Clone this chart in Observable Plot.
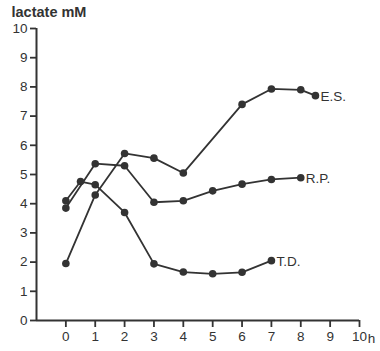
<!DOCTYPE html>
<html>
<head>
<meta charset="utf-8">
<script src="https://cdn.jsdelivr.net/npm/d3@7"></script>
<script src="https://cdn.jsdelivr.net/npm/@observablehq/plot@0.6"></script>
<style>
  html, body { margin: 0; padding: 0; background: #fff; }
</style>
</head>
<body>
<div id="chart"></div>
<script>
// Data
const esTimes = [0, 1, 2, 3, 4, 6, 7, 8, 8.5];
const esValues = [1.95, 4.3, 5.72, 5.56, 5.05, 7.4, 7.93, 7.9, 7.7];

const rpTimes = [0, 1, 2, 3, 4, 5, 6, 7, 8];
const rpValues = [3.85, 5.37, 5.3, 4.05, 4.1, 4.44, 4.67, 4.83, 4.89];

const tdTimes = [0, 0.5, 1, 2, 3, 4, 5, 6, 7];
const tdValues = [4.1, 4.76, 4.65, 3.7, 1.94, 1.66, 1.6, 1.65, 2.05];

const seriesNames = ["E.S.", "R.P.", "T.D."];
const xTicks = [0, 1, 2, 3, 4, 5, 6, 7, 8, 9, 10];
const yTicks = [0, 1, 2, 3, 4, 5, 6, 7, 8, 9, 10];
const yLabel = "lactate mM";
const xUnit = "h";

const seriesList = [
  {name: seriesNames[0], t: esTimes, v: esValues},
  {name: seriesNames[1], t: rpTimes, v: rpValues},
  {name: seriesNames[2], t: tdTimes, v: tdValues}
];
const data = seriesList.flatMap(s => s.t.map((t, i) => ({series: s.name, t, v: s.v[i]})));
const lastPoints = seriesList.map(s => ({series: s.name, t: s.t[s.t.length - 1], v: s.v[s.v.length - 1]}));

const ink = "#333";

const chart = Plot.plot({
  width: 380,
  height: 351,
  marginLeft: 36,
  marginRight: 21,
  marginTop: 28,
  marginBottom: 31,
  x: {domain: [-1, 10]},
  y: {domain: [0, 10]},
  style: {fontFamily: "'Liberation Sans', Arial, sans-serif", fontSize: "13.5px", color: ink, background: "#fff"},
  marks: [
    Plot.ruleY([0], {x1: -1, x2: 10, stroke: ink, strokeWidth: 2}),
    Plot.ruleX([-1], {y1: 0, y2: 10, stroke: ink, strokeWidth: 2}),
    Plot.axisX(xTicks, {tickSize: 7, tickPadding: 4, strokeWidth: 1.8, label: null, fill: ink}),
    Plot.axisY(yTicks, {tickSize: 6, tickPadding: 3, strokeWidth: 1.8, label: null, fill: ink}),
    Plot.line(data, {x: "t", y: "v", z: "series", stroke: ink, strokeWidth: 1.8}),
    Plot.dot(data, {x: "t", y: "v", r: 3.8, fill: ink}),
    Plot.text(lastPoints, {x: "t", y: "v", text: "series", textAnchor: "start", dx: 5, dy: 1, fill: ink}),
    Plot.text([xUnit], {x: 10, y: 0, text: d => d, dx: 12, dy: 18, fill: ink}),
    Plot.text([yLabel], {frameAnchor: "top-left", lineAnchor: "middle", text: d => d, dx: -25, dy: -16.5, textAnchor: "start", fontSize: 14.5, fontWeight: "bold", fill: ink})
  ]
});
document.getElementById("chart").append(chart);
</script>
</body>
</html>
